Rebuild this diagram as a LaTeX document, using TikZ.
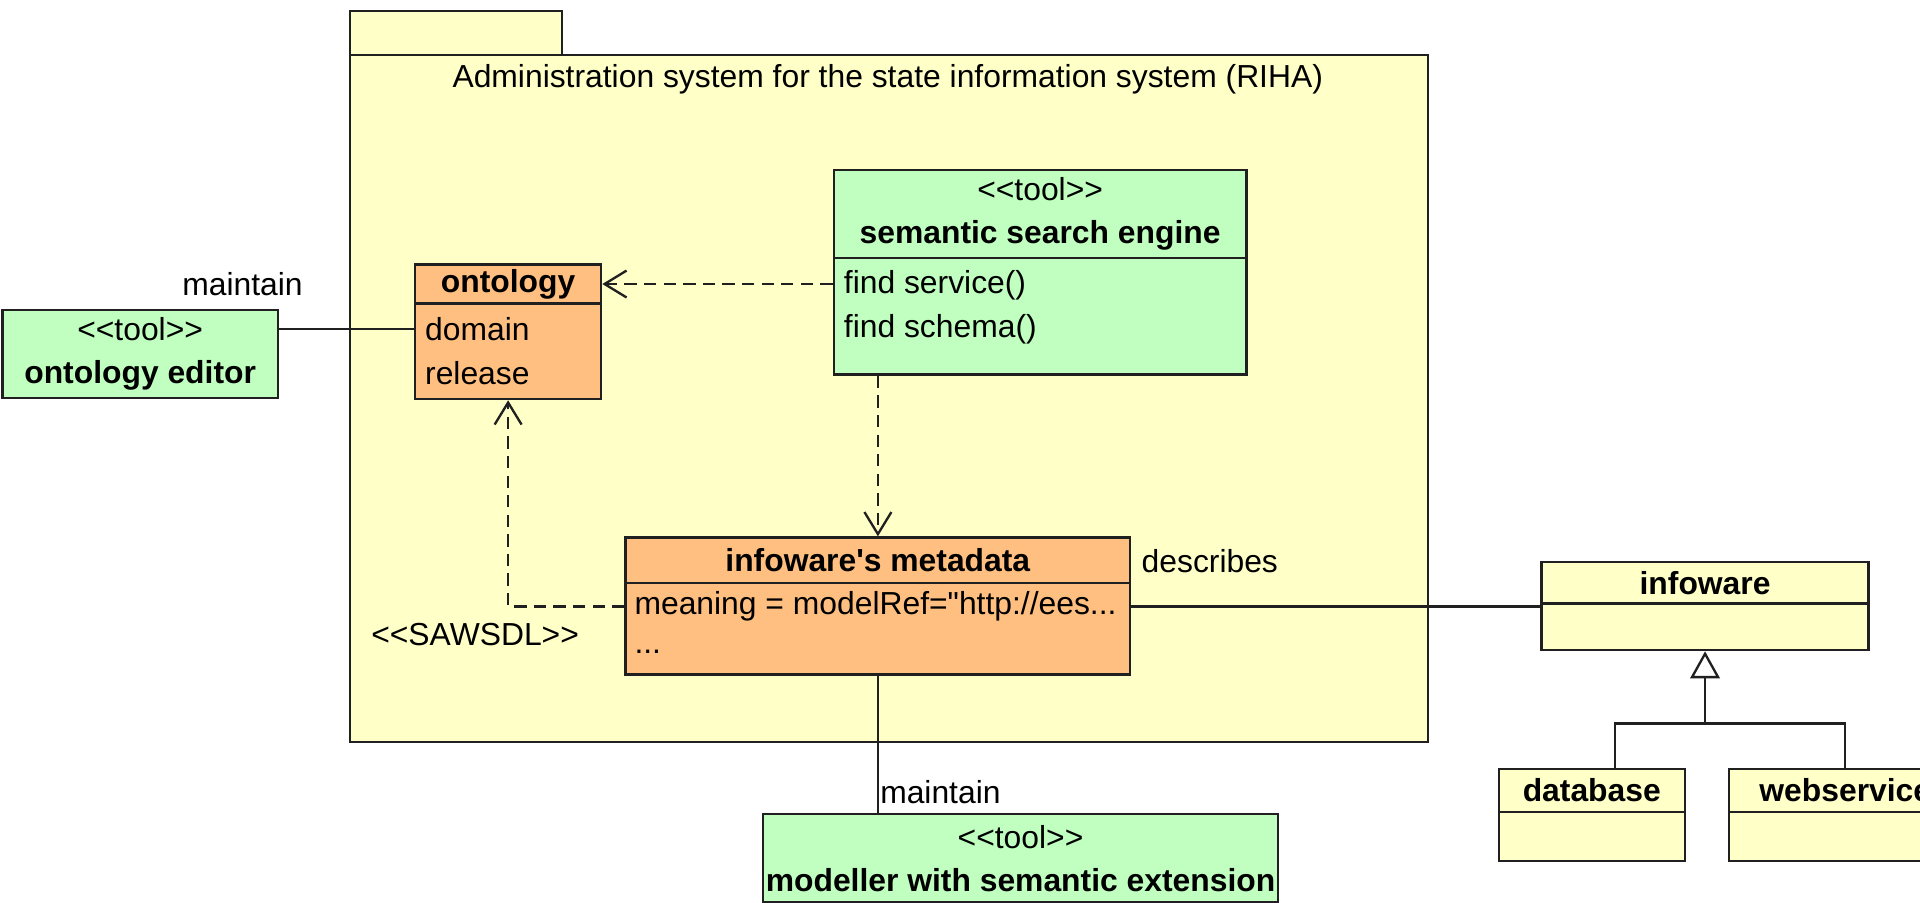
\documentclass[tikz,border=0pt]{standalone}
\usepackage{fontspec}
\setmainfont{Liberation Sans}[Ligatures=TeXOff]
\usepackage{tikz}
\usetikzlibrary{arrows.meta}
\usetikzlibrary{positioning}
\usetikzlibrary{calc}
\definecolor{pkgfill}{HTML}{FFFFC8}
\definecolor{toolfill}{HTML}{C0FFC0}
\definecolor{metafill}{HTML}{FFBF80}
\definecolor{edge}{HTML}{202020}
\newcommand{\stereo}[1]{<{}<#1>{}>}

\begin{document}
\begin{tikzpicture}[
  x=1pt, y=-1pt,
  font=\fontsize{26}{35}\selectfont,
  wire/.style ={
    draw=edge, line width=1.9pt
  },
  dep/.style ={
    wire, dash pattern=on 10pt off 6pt,
    -{Straight Barb[length=18pt,width=22pt]}
  },
  gen/.style ={
    wire, -{Triangle[length=22pt,width=24pt,fill=white]}
  },
  cls/.style n args={3}{
    rectangle,
    draw=edge,
    line width=1.9pt,
    fill=#3,
    minimum width=#1,
    minimum height=#2,
    inner sep=0pt,
    anchor=north west,
    align=center},
  attr/.style={
    anchor=base west,
    inner sep=0pt},
  lbl/.style={
    inner sep=0pt},
]

    \path[use as bounding box, fill=white] (0,0) rectangle (1568,737);
    \clip (0,0) rectangle (1568,737);

        % package
        \node[cls={173pt}{36pt}{pkgfill}] (pkg_tab) at (285,8) {};
        \node[cls={880pt}{561pt}{pkgfill}] (pkg) at (285,44) {};
        \node[lbl] (pkg_title) at (725,65)
            {Administration system for the state information system (RIHA)};

        % ontology editor
        \node[cls={225pt}{72pt}{toolfill}] (edt) at (1,252)
            {\stereo{tool}\\\textbf{ontology editor}};
        \node[lbl] (edt_lbl) at (198,232) {maintain};

        % ontology
        \node[cls={152pt}{32pt}{metafill}] (onto) at (338,215)
            {\textbf{ontology}};
        \node[cls={152pt}{78pt}{metafill}] (onto_b) at (338,247) {};
        \node[attr] (onto_dom) at (347,278) {domain};
        \node[attr] (onto_rel) at (347,314) {release};

        % semantic search engine
        \node[cls={337pt}{72pt}{toolfill}] (sse) at (680,138)
            {\stereo{tool}\\\textbf{semantic search engine}};
        \node[cls={337pt}{95pt}{toolfill}] (sse_b) at (680,210) {};
        \node[attr] (sse_op1) at (689,240) {find service()};
        \node[attr] (sse_op2) at (689,276) {find schema()};

        % infoware's metadata
        \node[cls={412pt}{37pt}{metafill}] (meta) at (510,438)
            {\textbf{infoware's metadata}};
        \node[cls={412pt}{75pt}{metafill}] (meta_b) at (510,475) {};
        \node[attr] (meta_at1) at (518,502) {meaning = modelRef="http://ees...};
        \node[attr] (meta_at2) at (518,534) {...};

        \node[lbl] (desc_lbl) at (988,458) {describes};
        \node[lbl] (saw_lbl) at (388,518) {\stereo{SAWSDL}};

        % infoware
        \node[cls={267pt}{34pt}{pkgfill}] (info) at (1258,458)
            {\textbf{infoware}};
        \node[cls={267pt}{38pt}{pkgfill}] (info_b) at (1258,492) {};
        \node[cls={152pt}{35pt}{pkgfill}] (db) at (1223,627)
            {\textbf{database}};
        \node[cls={152pt}{40pt}{pkgfill}] (db_b) at (1223,662) {};
        \node[cls={190pt}{35pt}{pkgfill}] (ws) at (1411,627)
            {\textbf{webservice}};
        \node[cls={190pt}{40pt}{pkgfill}] (ws_b) at (1411,662) {};

        % modeller
        \node[cls={421pt}{72pt}{toolfill}] (mod) at (622,664)
            {\stereo{tool}\\\textbf{modeller with semantic extension}};
        \node[lbl] (mod_lbl) at (768,647) {maintain};



        \draw[wire] (edt.east |- onto_dom.west) to (onto_b.west |- onto_dom.west);
        \draw[dep] (sse_b.west |- onto.east) to (onto.east);
        \draw[dep] (meta.north |- sse_b.south) to (meta.north);
        \draw[dep] (meta_b.west |- meta_at1.west) -| (onto_b.south);

        \draw[wire] (meta_b.east |- meta_at1.east) to (info_b.west |- meta_at1.east);
        \draw[wire] (meta_b.south) to (meta_b.south |- mod.north);

        \coordinate (fork) at ($(info_b.south)+(0,59)$);
        \draw[gen] (fork) to (info_b.south);
        \draw[wire] ([xshift=19pt]db.north) |- (fork) -| (ws.north);

\end{tikzpicture}
\end{document}
